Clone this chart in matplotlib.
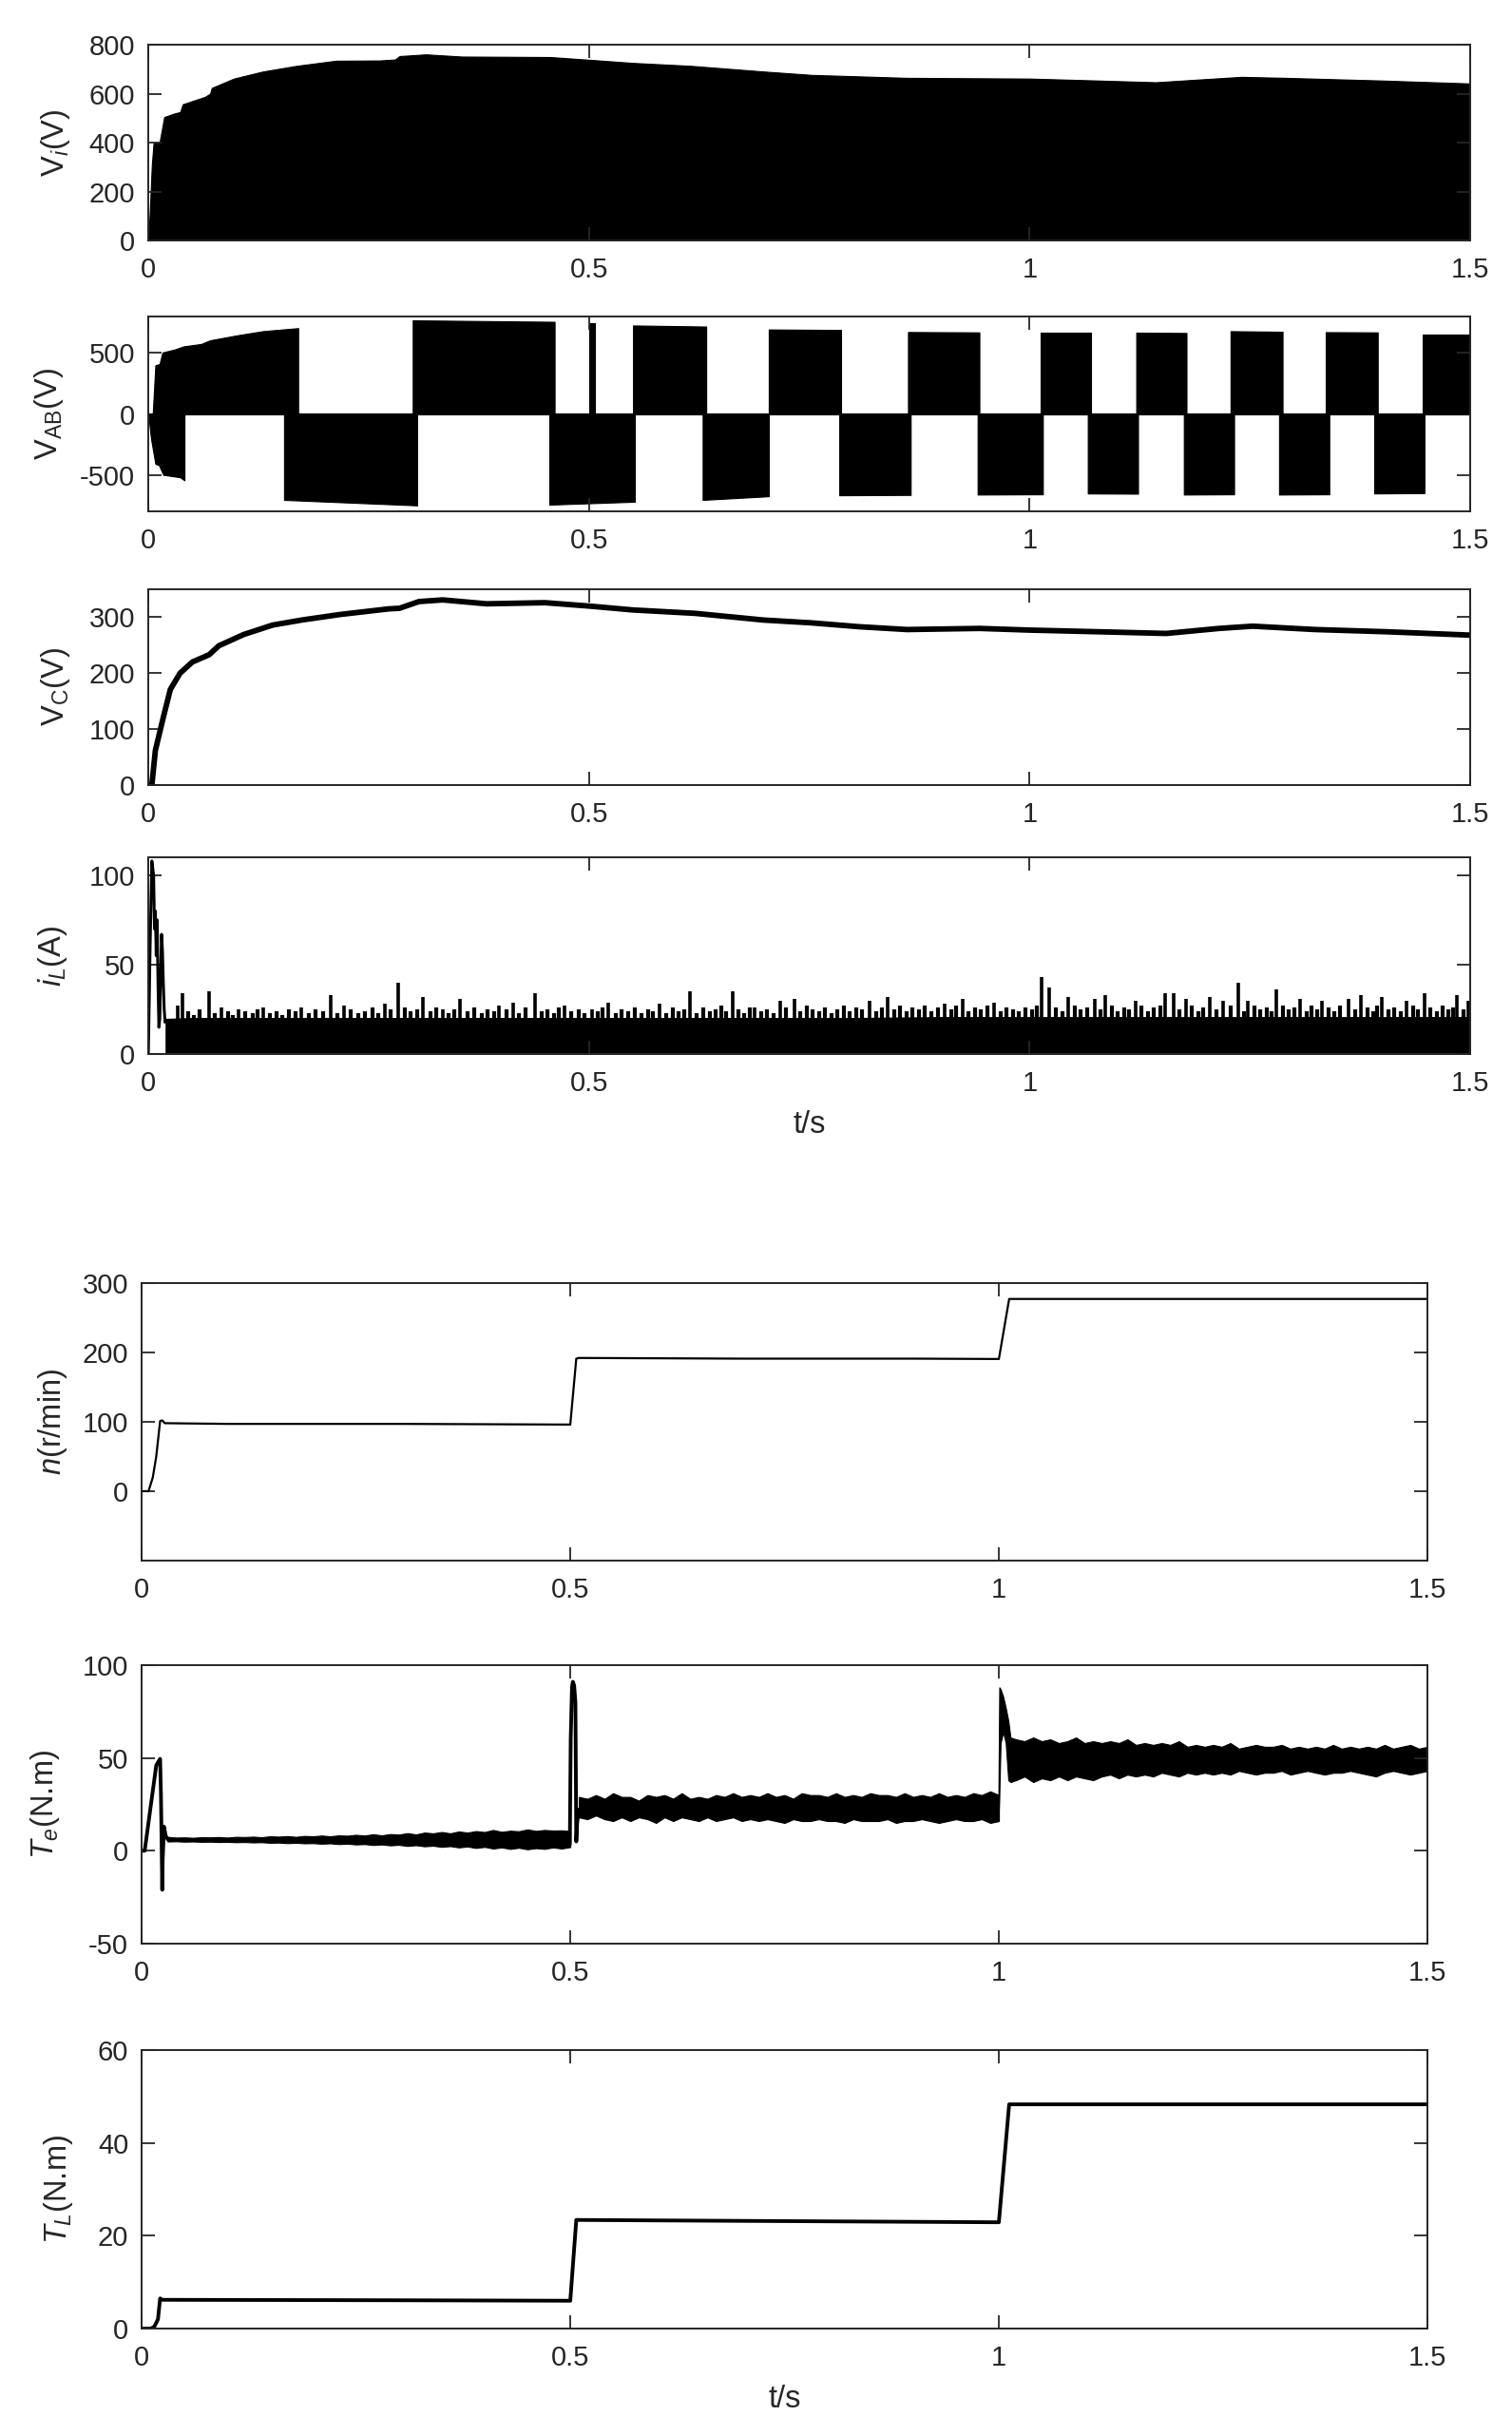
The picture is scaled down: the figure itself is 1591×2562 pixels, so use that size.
import numpy as np
import matplotlib
matplotlib.use('Agg')
import matplotlib.pyplot as plt

plt.rcParams['font.family'] = ['Liberation Sans', 'DejaVu Sans']
plt.rcParams['mathtext.fontset'] = 'custom'
plt.rcParams['mathtext.rm'] = 'Liberation Sans'
plt.rcParams['mathtext.it'] = 'Liberation Sans:italic'
plt.rcParams['mathtext.bf'] = 'Liberation Sans:bold'
plt.rcParams['axes.unicode_minus'] = False

# ---------------- data ----------------
x_ticks = [0, 0.5, 1, 1.5]
x_ticklabels = ['0', '0.5', '1', '1.5']

# Vi : upper envelope of PWM voltage (filled from 0)
Vi_t = [0, 0.0017, 0.004, 0.006, 0.0127, 0.018, 0.030, 0.036, 0.039, 0.064, 0.070, 0.072, 0.097,
        0.130, 0.168, 0.213, 0.262, 0.280, 0.285, 0.315, 0.356, 0.41, 0.456, 0.5, 0.55, 0.616,
        0.698, 0.753, 0.861, 1.0, 1.078, 1.143, 1.24, 1.29, 1.40, 1.5]
Vi_v = [0, 120, 310, 400, 400, 505, 520, 525, 557, 587, 600, 624, 662,
        691, 714, 735, 736, 740, 754, 761, 752, 751, 750, 739, 726, 714,
        691, 677, 665, 662, 654, 647, 669, 665, 654, 642]

# VAB : start-up envelopes and square-wave blocks
vab_pos0_t = [0.005, 0.008, 0.0127, 0.016, 0.030, 0.040, 0.060, 0.070, 0.100, 0.130, 0.170]
vab_pos0_v = [0, 400, 410, 505, 530, 555, 575, 605, 645, 680, 705]
vab_neg0_t = [0.0, 0.003, 0.008, 0.012, 0.017, 0.036, 0.041]
vab_neg0_v = [0, -200, -410, -420, -500, -520, -545]
vab_start = [0.154, 0.300, 0.455, 0.500, 0.550, 0.629, 0.704, 0.784, 0.862, 0.941,
             1.013, 1.066, 1.121, 1.175, 1.228, 1.283, 1.336, 1.391, 1.446]
vab_end = [0.305, 0.461, 0.552, 0.507, 0.633, 0.704, 0.786, 0.865, 0.943, 1.015,
           1.070, 1.123, 1.178, 1.232, 1.287, 1.340, 1.395, 1.448, 1.500]
vab_v_start = [-706, 769, -745, 748, 727, -706, 694, -668, 673, -662,
               668, -653, 668, -662, 680, -662, 672, -653, 656]
vab_v_end = [-751, 757, -721, 748, 718, -676, 690, -665, 670, -660,
             668, -655, 665, -660, 675, -660, 670, -650, 656]
vab_zero = 0

# VC
Vc_t = [0, 0.004, 0.008, 0.017, 0.025, 0.036, 0.050, 0.069, 0.080, 0.108, 0.141, 0.174,
        0.218, 0.273, 0.285, 0.307, 0.334, 0.384, 0.45, 0.5, 0.55, 0.62, 0.698, 0.752,
        0.807, 0.861, 0.943, 1.0, 1.079, 1.155, 1.215, 1.253, 1.324, 1.406, 1.5]
Vc_v = [0, 0, 62, 121, 171, 200, 220, 233, 249, 269, 286, 295,
        305, 315, 316, 328, 331, 324, 326, 320, 313, 307, 295, 290,
        283, 278, 280, 277, 274, 271, 280, 284, 278, 274, 268]

# iL : start-up transient, dense band and spikes
iL_tr_t = [0, 0.002, 0.004, 0.006, 0.007, 0.008, 0.009, 0.010, 0.011, 0.012, 0.013,
           0.014, 0.015, 0.016, 0.017, 0.018, 0.019]
iL_tr_v = [0, 60, 108, 100, 70, 80, 55, 75, 40, 15, 20, 45, 67, 58, 40, 25, 18]
iL_base_t = [0.019, 0.05, 0.1, 0.2, 0.3, 0.4, 0.5, 0.6, 0.7, 0.8, 0.9, 1.0, 1.1, 1.2, 1.3, 1.4, 1.5]
iL_base_v = [20, 20.5, 20.5, 20.5, 20.5, 20.5, 20.5, 20.5, 20.5, 20.5, 21, 21, 21, 21, 21, 21, 21]
iL_spk_t = [0.033, 0.039, 0.069, 0.083, 0.102, 0.130, 0.174, 0.207, 0.222, 0.268, 0.283, 0.312,
            0.334, 0.354, 0.398, 0.414, 0.439, 0.472, 0.503, 0.522, 0.580, 0.615, 0.663, 0.688,
            0.717, 0.733, 0.818, 0.839, 0.904, 0.924, 0.960, 1.014, 1.022, 1.044, 1.074, 1.086,
            1.120, 1.154, 1.163, 1.177, 1.204, 1.220, 1.237, 1.248, 1.280, 1.307, 1.332, 1.362,
            1.376, 1.400, 1.428, 1.448, 1.485, 1.498]
iL_spk_v = [27, 34, 35, 26, 25, 26, 26, 33, 27, 28, 40, 32,
            25, 31, 27, 29, 34, 27, 25, 29, 28, 35, 35, 26,
            30, 31, 30, 32, 28, 31, 29, 43, 37, 32, 31, 33,
            30, 34, 34, 31, 32, 30, 40, 30, 36, 31, 30, 31,
            33, 32, 30, 34, 33, 30]
iL_rip_t = [0.045, 0.052, 0.058, 0.075, 0.090, 0.096, 0.110, 0.118, 0.124, 0.138, 0.145, 0.152,
            0.160, 0.167, 0.182, 0.190, 0.198, 0.214, 0.230, 0.238, 0.246, 0.254, 0.261, 0.275,
            0.291, 0.298, 0.305, 0.320, 0.327, 0.341, 0.347, 0.362, 0.370, 0.378, 0.385, 0.392,
            0.406, 0.421, 0.428, 0.446, 0.453, 0.460, 0.466, 0.480, 0.488, 0.495, 0.510, 0.515,
            0.530, 0.537, 0.545, 0.552, 0.560, 0.567, 0.573, 0.588, 0.595, 0.602, 0.608, 0.622,
            0.630, 0.637, 0.644, 0.650, 0.656, 0.670, 0.676, 0.682, 0.695, 0.702, 0.709, 0.724,
            0.740, 0.747, 0.754, 0.761, 0.768, 0.775, 0.782, 0.789, 0.796, 0.803, 0.810, 0.826,
            0.832, 0.846, 0.853, 0.860, 0.867, 0.874, 0.881, 0.888, 0.896, 0.911, 0.917, 0.931,
            0.938, 0.945, 0.952, 0.967, 0.974, 0.981, 0.988, 0.995, 1.003, 1.008, 1.030, 1.037,
            1.051, 1.058, 1.065, 1.080, 1.093, 1.100, 1.107, 1.113, 1.127, 1.134, 1.141, 1.148,
            1.170, 1.184, 1.191, 1.197, 1.212, 1.228, 1.243, 1.255, 1.262, 1.269, 1.274, 1.287,
            1.294, 1.300, 1.314, 1.320, 1.326, 1.339, 1.346, 1.352, 1.369, 1.383, 1.390, 1.394,
            1.407, 1.414, 1.421, 1.435, 1.441, 1.455, 1.462, 1.469, 1.475, 1.480, 1.492]
iL_rip_v = [24, 22, 25, 23, 24, 22, 24, 23, 25, 23, 24, 22,
            25, 24, 23, 25, 24, 23, 25, 23, 24, 26, 23, 25,
            26, 24, 25, 24, 26, 23, 25, 24, 26, 23, 25, 24,
            25, 23, 26, 24, 25, 23, 26, 24, 25, 23, 24, 26,
            23, 25, 24, 26, 23, 25, 24, 23, 26, 24, 25, 23,
            26, 24, 25, 27, 24, 25, 23, 26, 24, 25, 23, 26,
            24, 27, 25, 24, 26, 23, 25, 27, 24, 26, 25, 24,
            26, 25, 27, 24, 26, 25, 27, 24, 26, 25, 27, 24,
            26, 25, 27, 24, 26, 25, 24, 26, 25, 27, 26, 24,
            27, 25, 26, 25, 27, 24, 26, 25, 27, 24, 26, 27,
            25, 27, 24, 26, 25, 27, 24, 27, 25, 26, 24, 27,
            25, 26, 24, 27, 25, 26, 24, 27, 25, 26, 24, 27,
            25, 26, 24, 27, 25, 26, 24, 27, 25, 26, 25]

# n (r/min)
n_t = [0, 0.008, 0.013, 0.017, 0.0215, 0.024, 0.027, 0.1, 0.3, 0.5, 0.507, 0.51, 0.7, 0.9,
       1.0, 1.012, 1.1, 1.3, 1.5]
n_v = [0, 0, 20, 50, 101, 102, 98, 97, 97, 96, 191, 192, 191, 191, 190.5, 277, 277, 277, 277]

# Te : transients and ripple bands
Te_tr_t = [0, 0.0035, 0.017, 0.0215, 0.0225, 0.024, 0.0245, 0.026, 0.028, 0.03]
Te_tr_v = [0, 0, 46, 49.5, 30, -21, -5, 13, 8, 6.5]
Te_j1_t = [0.4995, 0.5005, 0.502, 0.503, 0.5045, 0.506, 0.507, 0.508, 0.510]
Te_j1_v = [4, 60, 88, 91, 89, 80, 5, 15, 22]
Te_b1_t = np.linspace(0.03, 0.50, 48)
Te_b1_up = [7.5, 7.1, 7.2, 7.0, 7.3, 7.2, 7.4, 7.1, 7.5, 7.4,
            7.6, 7.3, 7.8, 7.6, 7.9, 7.5, 8.0, 7.8, 8.2, 7.8,
            8.3, 8.1, 8.6, 8.2, 8.9, 8.3, 9.0, 8.7, 9.5, 8.8,
            9.8, 9.4, 10.1, 9.4, 10.4, 9.8, 10.6, 10.1, 11.2, 10.2,
            10.8, 10.5, 11.5, 10.7, 11.2, 10.9, 11.0, 10.6]
Te_b1_lo = [5.0, 5.1, 4.9, 5.0, 4.8, 4.9, 4.7, 4.8, 4.6, 4.7,
            4.5, 4.6, 4.3, 4.4, 4.1, 4.3, 4.0, 4.1, 3.8, 4.0,
            3.6, 3.8, 3.4, 3.6, 3.1, 3.4, 2.9, 3.2, 2.6, 3.0,
            2.4, 2.7, 2.1, 2.5, 1.8, 2.3, 1.5, 2.1, 1.2, 1.8,
            1.0, 1.6, 0.8, 1.4, 1.0, 1.8, 1.2, 2.0]
Te_b2_t = np.linspace(0.51, 1.0, 50)
Te_b2_up = [29, 28, 30, 28, 31, 29, 29, 27, 30, 29,
            30, 28, 31, 28, 29, 28, 30, 29, 31, 29,
            30, 29, 31, 29, 30, 28, 31, 30, 30, 29,
            31, 29, 30, 29, 31, 30, 30, 29, 31, 29,
            30, 29, 31, 29, 30, 29, 31, 30, 32, 30]
Te_b2_lo = [18, 17, 19, 17, 16, 18, 16, 18, 17, 15,
            18, 16, 18, 17, 16, 18, 16, 17, 18, 16,
            17, 16, 17, 16, 15, 17, 16, 16, 17, 16,
            16, 15, 17, 16, 16, 16, 17, 15, 16, 16,
            17, 16, 15, 16, 17, 16, 16, 17, 15, 16]
Te_b3_t = np.concatenate([[0.9995, 1.0005, 1.002, 1.005, 1.008, 1.011, 1.0135],
                          np.linspace(1.02, 1.5, 49)])
Te_b3_up = [31, 88, 87, 83, 77, 70, 61,
            60, 59, 61, 59, 60, 58, 59, 61, 58, 59,
            58, 59, 58, 60, 57, 58, 57, 58, 57, 59,
            56, 57, 56, 57, 56, 58, 55, 56, 57, 56,
            56, 57, 55, 56, 55, 56, 55, 57, 55, 56,
            55, 56, 55, 57, 55, 56, 57, 55, 56]
Te_b3_lo = [16, 30, 58, 64, 58, 38, 37,
            38, 40, 37, 39, 38, 40, 38, 40, 39, 38,
            40, 41, 39, 41, 40, 41, 40, 42, 41, 40,
            42, 41, 42, 41, 42, 41, 43, 42, 41, 42,
            42, 43, 41, 42, 43, 42, 41, 42, 42, 43,
            42, 41, 40, 42, 43, 42, 41, 42, 43]

# TL
TL_t = [0, 0.011, 0.015, 0.019, 0.0215, 0.024, 0.3, 0.5, 0.507, 0.6, 1.0, 1.012, 1.5]
TL_v = [0, 0, 0.5, 2, 6.5, 6.2, 6.1, 6.0, 23.4, 23.3, 22.9, 48.3, 48.3]

# ---------------- figure ----------------
AX_COL = '#262626'
TICK_FS = 21
LAB_FS = 23.5

fig = plt.figure(figsize=(15.91, 25.62), dpi=100)

top_l, top_w = 0.0981, 0.8743
bot_l, bot_w = 0.0937, 0.8504
ax1 = fig.add_axes([top_l, 0.9012, top_w, 0.0804])
ax2 = fig.add_axes([top_l, 0.7900, top_w, 0.0800])
ax3 = fig.add_axes([top_l, 0.6776, top_w, 0.0804])
ax4 = fig.add_axes([top_l, 0.5671, top_w, 0.0808])
ax5 = fig.add_axes([bot_l, 0.3591, bot_w, 0.1140])
ax6 = fig.add_axes([bot_l, 0.2018, bot_w, 0.1144])
ax7 = fig.add_axes([bot_l, 0.0437, bot_w, 0.1144])


def style(ax, ylim, yticks, ylabel, labelpad):
    ax.set_xlim(0, 1.5)
    ax.set_ylim(*ylim)
    ax.set_xticks(x_ticks)
    ax.set_xticklabels(x_ticklabels)
    ax.set_yticks(yticks)
    ax.tick_params(direction='in', top=True, right=True, length=10, width=1.3,
                   colors=AX_COL, labelsize=TICK_FS)
    ax.tick_params(axis='x', pad=12)
    ax.tick_params(axis='y', pad=10)
    for s in ax.spines.values():
        s.set_linewidth(1.4)
        s.set_color(AX_COL)
        s.set_zorder(5)
    ax.set_ylabel(ylabel, fontsize=LAB_FS, color=AX_COL, labelpad=labelpad)


# Vi
ax1.fill_between(Vi_t, 0, Vi_v, color='k', lw=0.8, edgecolor='k')
style(ax1, (0, 800), [0, 200, 400, 600, 800], r'$\mathrm{V}_{\mathit{i}}$(V)', 13)

# VAB
ax2.axhline(vab_zero, color='k', lw=1.5)
ax2.fill_between(vab_pos0_t, 0, vab_pos0_v, color='k', lw=0.8, edgecolor='k')
ax2.fill_between(vab_neg0_t, 0, vab_neg0_v, color='k', lw=0.8, edgecolor='k')
for s, e, v1, v2 in zip(vab_start, vab_end, vab_v_start, vab_v_end):
    ax2.fill_between([s, e], 0, [v1, v2], color='k', lw=0.8, edgecolor='k')
style(ax2, (-800, 800), [-500, 0, 500], r'$\mathrm{V}_{\mathrm{AB}}$(V)', 11)

# VC
ax3.plot(Vc_t, Vc_v, color='k', lw=4.2, solid_joinstyle='round')
style(ax3, (0, 350), [0, 100, 200, 300], r'$\mathrm{V}_{\mathrm{C}}$(V)', 13)

# iL
ax4.plot(iL_tr_t, iL_tr_v, color='k', lw=2.2)
ax4.fill_between(iL_base_t, 0, iL_base_v, color='k', lw=0)
ax4.vlines(iL_rip_t, 0, iL_rip_v, color='k', lw=3.0)
ax4.vlines(iL_spk_t, 0, iL_spk_v, color='k', lw=2.6)
style(ax4, (0, 110), [0, 50, 100], r'$\mathit{i}_{\mathit{L}}$(A)', 15)
ax4.set_xlabel('t/s', fontsize=LAB_FS, color=AX_COL, labelpad=10)

# n
ax5.plot(n_t, n_v, color='k', lw=1.6)
style(ax5, (-100, 300), [0, 100, 200, 300], r'$\mathit{n}$(r/min)', 10)

# Te
ax6.plot(Te_tr_t, Te_tr_v, color='k', lw=2.8)
ax6.plot(Te_j1_t, Te_j1_v, color='k', lw=2.8)
ax6.fill_between(Te_b1_t, Te_b1_lo, Te_b1_up, color='k', lw=0.8, edgecolor='k')
ax6.fill_between(Te_b2_t, Te_b2_lo, Te_b2_up, color='k', lw=0.8, edgecolor='k')
ax6.fill_between(Te_b3_t, Te_b3_lo, Te_b3_up, color='k', lw=0.8, edgecolor='k')
style(ax6, (-50, 100), [-50, 0, 50, 100], r'$\mathit{T}_{\mathit{e}}$(N.m)', 16)

# TL
ax7.plot(TL_t, TL_v, color='k', lw=2.8)
style(ax7, (0, 60), [0, 20, 40, 60], r'$\mathit{T}_{\mathit{L}}$(N.m)', 17)
ax7.set_xlabel('t/s', fontsize=LAB_FS, color=AX_COL, labelpad=10)

fig.savefig('out.png', dpi=100)
